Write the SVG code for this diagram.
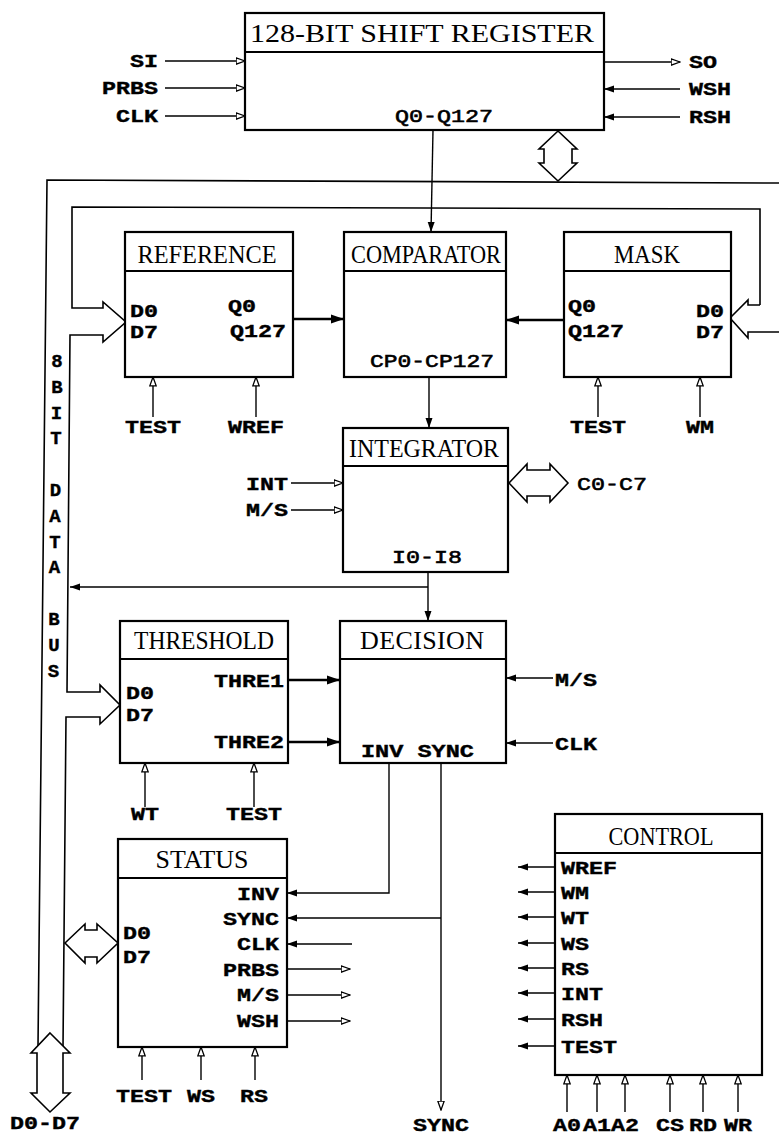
<svg xmlns="http://www.w3.org/2000/svg" width="779" height="1136" viewBox="0 0 779 1136">
<defs>
<marker id="ho" viewBox="0 0 10 8" refX="9.5" refY="4" markerWidth="10" markerHeight="8" markerUnits="userSpaceOnUse" orient="auto"><path d="M0.6,0.8 L9.5,4 L0.6,7.2 z" fill="#fff" stroke="#000" stroke-width="1.3"/></marker>
<marker id="so" viewBox="0 0 10 8" refX="10" refY="4" markerWidth="10" markerHeight="8" markerUnits="userSpaceOnUse" orient="auto"><path d="M0,0.5 L10,4 L0,7.5 z" fill="#000"/></marker>
<marker id="big" viewBox="0 0 13 10" refX="13" refY="5" markerWidth="13" markerHeight="10" markerUnits="userSpaceOnUse" orient="auto"><path d="M0,0.5 L13,5 L0,9.5 z" fill="#000"/></marker>
</defs>
<style>
.box{fill:#fff;stroke:#000;stroke-width:2.2}
.div{stroke:#000;stroke-width:2}
.t{font-family:"Liberation Serif","Times New Roman",serif;font-size:26px;text-anchor:middle;fill:#000}
.p{font-family:"Liberation Mono","Courier New",monospace;font-size:19px;font-weight:bold;fill:#000;stroke:#000;stroke-width:0.4}
.r{font-family:"Liberation Mono","Courier New",monospace;font-size:19px;fill:#000;stroke:#000;stroke-width:0.6}
.e{text-anchor:end}
.m{text-anchor:middle}
.w{fill:none;stroke:#000;stroke-width:1.4}
.th{fill:none;stroke:#000;stroke-width:2.6}
.bus{fill:none;stroke:#000;stroke-width:1.6;stroke-linejoin:miter}
.ba{fill:#fff;stroke:#000;stroke-width:1.6}
.hin{marker-end:url(#ho)}
.sin{marker-end:url(#so)}
.bin{marker-end:url(#big)}
</style>

<g id="connectors">
<path class="bus" d="M779,183 L47,180 L38,1046"/>
<path class="bus" d="M760,305 L760,209 L72,207 L72,308 L103,308 L103,302 L126,322 L103,342 L103,335 L70,335 L67,692 L100,692 L100,685 L120,705 L100,724 L100,717 L66,717 L63,1047"/>
<path class="bus" d="M779,332 L748,332 L748,338 L730,318 L748,300 L748,305 L760,305"/>
<polygon class="ba" points="558,131 577,149 572,149 572,163 577,163 558,181 539,163 544,163 544,149 539,149"/>
<polygon class="ba" points="50,1033 70,1053 63,1053 63,1093 70,1093 50,1112 31,1093 37,1093 37,1053 31,1053"/>
<polygon class="ba" points="65,943 85,924 85,930 97,930 97,924 118,943 97,963 97,957 85,957 85,963"/>
<polygon class="ba" points="509,483 527,464 527,470 550,470 550,464 568,483 550,502 550,496 527,496 527,502"/>
<line class="w hin" x1="165" y1="61" x2="245" y2="61"/>
<line class="w hin" x1="165" y1="88" x2="245" y2="88"/>
<line class="w hin" x1="165" y1="116" x2="245" y2="116"/>
<line class="w hin" x1="604" y1="62" x2="680" y2="62"/>
<line class="w sin" x1="680" y1="89" x2="604" y2="89"/>
<line class="w sin" x1="680" y1="117" x2="604" y2="117"/>
<line class="w sin" x1="433" y1="130" x2="431" y2="232"/>
<line class="th bin" x1="293" y1="319" x2="344" y2="319"/>
<line class="th bin" x1="564" y1="320" x2="506" y2="320"/>
<line class="w hin" x1="153" y1="417" x2="153" y2="377"/>
<line class="w hin" x1="256" y1="417" x2="256" y2="377"/>
<line class="w hin" x1="598" y1="417" x2="598" y2="377"/>
<line class="w hin" x1="700" y1="417" x2="700" y2="377"/>
<line class="w sin" x1="429" y1="377" x2="429" y2="428"/>
<line class="w hin" x1="291" y1="483" x2="343" y2="483"/>
<line class="w hin" x1="291" y1="510" x2="343" y2="510"/>
<line class="w sin" x1="428" y1="572" x2="428" y2="621"/>
<line class="w sin" x1="428" y1="587" x2="70" y2="587"/>
<line class="th bin" x1="288" y1="680" x2="340" y2="680"/>
<line class="th bin" x1="288" y1="742" x2="340" y2="742"/>
<line class="w sin" x1="553" y1="678" x2="506" y2="678"/>
<line class="w sin" x1="553" y1="743" x2="506" y2="743"/>
<line class="w hin" x1="145" y1="807" x2="145" y2="763"/>
<line class="w hin" x1="254" y1="807" x2="254" y2="763"/>
<polyline class="w sin" points="389,763 389,893 287,893"/>
<line class="w hin" x1="441" y1="763" x2="441" y2="1110"/>
<line class="w sin" x1="441" y1="918" x2="287" y2="918"/>
<line class="w sin" x1="352" y1="944" x2="287" y2="944"/>
<line class="w hin" x1="287" y1="969" x2="350" y2="969"/>
<line class="w hin" x1="287" y1="995" x2="350" y2="995"/>
<line class="w hin" x1="287" y1="1021" x2="350" y2="1021"/>
<line class="w hin" x1="142" y1="1080" x2="142" y2="1047"/>
<line class="w hin" x1="201" y1="1080" x2="201" y2="1047"/>
<line class="w hin" x1="255" y1="1080" x2="255" y2="1047"/>
<line class="w sin" x1="555" y1="867" x2="518" y2="867"/>
<line class="w sin" x1="555" y1="892" x2="518" y2="892"/>
<line class="w sin" x1="555" y1="917" x2="518" y2="917"/>
<line class="w sin" x1="555" y1="943" x2="518" y2="943"/>
<line class="w sin" x1="555" y1="968" x2="518" y2="968"/>
<line class="w sin" x1="555" y1="993" x2="518" y2="993"/>
<line class="w sin" x1="555" y1="1019" x2="518" y2="1019"/>
<line class="w sin" x1="555" y1="1046" x2="518" y2="1046"/>
<line class="w hin" x1="567" y1="1112" x2="567" y2="1075"/>
<line class="w hin" x1="597" y1="1112" x2="597" y2="1075"/>
<line class="w hin" x1="625" y1="1112" x2="625" y2="1075"/>
<line class="w hin" x1="670" y1="1112" x2="670" y2="1075"/>
<line class="w hin" x1="703" y1="1112" x2="703" y2="1075"/>
<line class="w hin" x1="738" y1="1112" x2="738" y2="1075"/>
</g>

<g id="shift-register">
<rect class="box" x="245" y="13" width="359" height="117"/>
<line class="div" x1="245" y1="52" x2="604" y2="52"/>
<text class="t" x="422" y="42" textLength="344" lengthAdjust="spacingAndGlyphs">128-BIT SHIFT REGISTER</text>
<text class="r m" x="444" y="122" textLength="98" lengthAdjust="spacingAndGlyphs">Q0-Q127</text>
</g>
<g id="sr-labels">
<text class="p e" x="158" y="67" textLength="28" lengthAdjust="spacingAndGlyphs">SI</text>
<text class="p e" x="158" y="94" textLength="56" lengthAdjust="spacingAndGlyphs">PRBS</text>
<text class="p e" x="158" y="122" textLength="42" lengthAdjust="spacingAndGlyphs">CLK</text>
<text class="p" x="689" y="68" textLength="28" lengthAdjust="spacingAndGlyphs">SO</text>
<text class="p" x="689" y="95" textLength="42" lengthAdjust="spacingAndGlyphs">WSH</text>
<text class="p" x="689" y="123" textLength="42" lengthAdjust="spacingAndGlyphs">RSH</text>
</g>

<g id="bus-label">
<text class="p m" x="57" y="367">8</text>
<text class="p m" x="57" y="393">B</text>
<text class="p m" x="56.5" y="419">I</text>
<text class="p m" x="56" y="444">T</text>
<text class="p m" x="55.5" y="496">D</text>
<text class="p m" x="55" y="522">A</text>
<text class="p m" x="55" y="548">T</text>
<text class="p m" x="54.5" y="573">A</text>
<text class="p m" x="54" y="625">B</text>
<text class="p m" x="54" y="651">U</text>
<text class="p m" x="53.5" y="677">S</text>
<text class="p m" x="45" y="1129" textLength="70" lengthAdjust="spacingAndGlyphs">D0-D7</text>
</g>

<g id="reference">
<rect class="box" x="125" y="232" width="168" height="145"/>
<line class="div" x1="125" y1="271" x2="293" y2="271"/>
<text class="t" x="207" y="263" textLength="139" lengthAdjust="spacingAndGlyphs">REFERENCE</text>
<text class="p" x="130" y="317" textLength="28" lengthAdjust="spacingAndGlyphs">D0</text>
<text class="p" x="130" y="338" textLength="28" lengthAdjust="spacingAndGlyphs">D7</text>
<text class="p" x="228" y="312" textLength="28" lengthAdjust="spacingAndGlyphs">Q0</text>
<text class="p e" x="286" y="337" textLength="56" lengthAdjust="spacingAndGlyphs">Q127</text>
<text class="p m" x="153" y="433" textLength="56" lengthAdjust="spacingAndGlyphs">TEST</text>
<text class="p m" x="256" y="433" textLength="56" lengthAdjust="spacingAndGlyphs">WREF</text>
</g>

<g id="comparator">
<rect class="box" x="344" y="232" width="162" height="145"/>
<line class="div" x1="344" y1="271" x2="506" y2="271"/>
<text class="t" x="426" y="263" textLength="150" lengthAdjust="spacingAndGlyphs">COMPARATOR</text>
<text class="r m" x="432" y="367" textLength="124" lengthAdjust="spacingAndGlyphs">CP0-CP127</text>
</g>

<g id="mask">
<rect class="box" x="564" y="232" width="167" height="145"/>
<line class="div" x1="564" y1="271" x2="731" y2="271"/>
<text class="t" x="647" y="263" textLength="66" lengthAdjust="spacingAndGlyphs">MASK</text>
<text class="p" x="568" y="312" textLength="28" lengthAdjust="spacingAndGlyphs">Q0</text>
<text class="p" x="568" y="337" textLength="56" lengthAdjust="spacingAndGlyphs">Q127</text>
<text class="p e" x="724" y="317" textLength="28" lengthAdjust="spacingAndGlyphs">D0</text>
<text class="p e" x="724" y="338" textLength="28" lengthAdjust="spacingAndGlyphs">D7</text>
<text class="p m" x="598" y="433" textLength="56" lengthAdjust="spacingAndGlyphs">TEST</text>
<text class="p m" x="700" y="433" textLength="28" lengthAdjust="spacingAndGlyphs">WM</text>
</g>

<g id="integrator">
<rect class="box" x="343" y="428" width="165" height="144"/>
<line class="div" x1="343" y1="466" x2="508" y2="466"/>
<text class="t" x="424" y="457" textLength="150" lengthAdjust="spacingAndGlyphs">INTEGRATOR</text>
<text class="r m" x="427" y="563" textLength="70" lengthAdjust="spacingAndGlyphs">I0-I8</text>
<text class="p e" x="288" y="490" textLength="42" lengthAdjust="spacingAndGlyphs">INT</text>
<text class="p e" x="288" y="516" textLength="42" lengthAdjust="spacingAndGlyphs">M/S</text>
<text class="r" x="577" y="490" textLength="70" lengthAdjust="spacingAndGlyphs">C0-C7</text>
</g>

<g id="threshold">
<rect class="box" x="120" y="621" width="168" height="142"/>
<line class="div" x1="120" y1="659" x2="288" y2="659"/>
<text class="t" x="204" y="649" textLength="140" lengthAdjust="spacingAndGlyphs">THRESHOLD</text>
<text class="p" x="126" y="699" textLength="28" lengthAdjust="spacingAndGlyphs">D0</text>
<text class="p" x="126" y="721" textLength="28" lengthAdjust="spacingAndGlyphs">D7</text>
<text class="p e" x="284" y="687" textLength="70" lengthAdjust="spacingAndGlyphs">THRE1</text>
<text class="p e" x="284" y="748" textLength="70" lengthAdjust="spacingAndGlyphs">THRE2</text>
<text class="p m" x="145" y="820" textLength="28" lengthAdjust="spacingAndGlyphs">WT</text>
<text class="p m" x="254" y="820" textLength="56" lengthAdjust="spacingAndGlyphs">TEST</text>
</g>

<g id="decision">
<rect class="box" x="340" y="621" width="166" height="142"/>
<line class="div" x1="340" y1="659" x2="506" y2="659"/>
<text class="t" x="422" y="649" textLength="124">DECISION</text>
<text class="p" x="361" y="757" textLength="113" lengthAdjust="spacingAndGlyphs">INV SYNC</text>
<text class="p" x="555" y="686" textLength="42" lengthAdjust="spacingAndGlyphs">M/S</text>
<text class="p" x="555" y="750" textLength="42" lengthAdjust="spacingAndGlyphs">CLK</text>
<text class="p m" x="441" y="1131" textLength="56" lengthAdjust="spacingAndGlyphs">SYNC</text>
</g>

<g id="status">
<rect class="box" x="118" y="839" width="169" height="208"/>
<line class="div" x1="118" y1="878" x2="287" y2="878"/>
<text class="t" x="202" y="868" textLength="93" lengthAdjust="spacingAndGlyphs">STATUS</text>
<text class="p e" x="279" y="900" textLength="42" lengthAdjust="spacingAndGlyphs">INV</text>
<text class="p e" x="279" y="925" textLength="56" lengthAdjust="spacingAndGlyphs">SYNC</text>
<text class="p e" x="279" y="950" textLength="42" lengthAdjust="spacingAndGlyphs">CLK</text>
<text class="p e" x="279" y="976" textLength="56" lengthAdjust="spacingAndGlyphs">PRBS</text>
<text class="p e" x="279" y="1001" textLength="42" lengthAdjust="spacingAndGlyphs">M/S</text>
<text class="p e" x="279" y="1027" textLength="42" lengthAdjust="spacingAndGlyphs">WSH</text>
<text class="p" x="123" y="939" textLength="28" lengthAdjust="spacingAndGlyphs">D0</text>
<text class="p" x="123" y="963" textLength="28" lengthAdjust="spacingAndGlyphs">D7</text>
<text class="p m" x="144" y="1102" textLength="56" lengthAdjust="spacingAndGlyphs">TEST</text>
<text class="p m" x="201" y="1102" textLength="28" lengthAdjust="spacingAndGlyphs">WS</text>
<text class="p m" x="254" y="1102" textLength="28" lengthAdjust="spacingAndGlyphs">RS</text>
</g>

<g id="control">
<rect class="box" x="555" y="814" width="207" height="261"/>
<line class="div" x1="555" y1="853" x2="762" y2="853"/>
<text class="t" x="661" y="845" textLength="105" lengthAdjust="spacingAndGlyphs">CONTROL</text>
<text class="p" x="561" y="874" textLength="56" lengthAdjust="spacingAndGlyphs">WREF</text>
<text class="p" x="561" y="899" textLength="28" lengthAdjust="spacingAndGlyphs">WM</text>
<text class="p" x="561" y="924" textLength="28" lengthAdjust="spacingAndGlyphs">WT</text>
<text class="p" x="561" y="950" textLength="28" lengthAdjust="spacingAndGlyphs">WS</text>
<text class="p" x="561" y="975" textLength="28" lengthAdjust="spacingAndGlyphs">RS</text>
<text class="p" x="561" y="1000" textLength="42" lengthAdjust="spacingAndGlyphs">INT</text>
<text class="p" x="561" y="1026" textLength="42" lengthAdjust="spacingAndGlyphs">RSH</text>
<text class="p" x="561" y="1053" textLength="56" lengthAdjust="spacingAndGlyphs">TEST</text>
<text class="p m" x="567" y="1131" textLength="28" lengthAdjust="spacingAndGlyphs">A0</text>
<text class="p m" x="597" y="1131" textLength="28" lengthAdjust="spacingAndGlyphs">A1</text>
<text class="p m" x="625" y="1131" textLength="28" lengthAdjust="spacingAndGlyphs">A2</text>
<text class="p m" x="670" y="1131" textLength="28" lengthAdjust="spacingAndGlyphs">CS</text>
<text class="p m" x="703" y="1131" textLength="28" lengthAdjust="spacingAndGlyphs">RD</text>
<text class="p m" x="738" y="1131" textLength="28" lengthAdjust="spacingAndGlyphs">WR</text>
</g>
</svg>
